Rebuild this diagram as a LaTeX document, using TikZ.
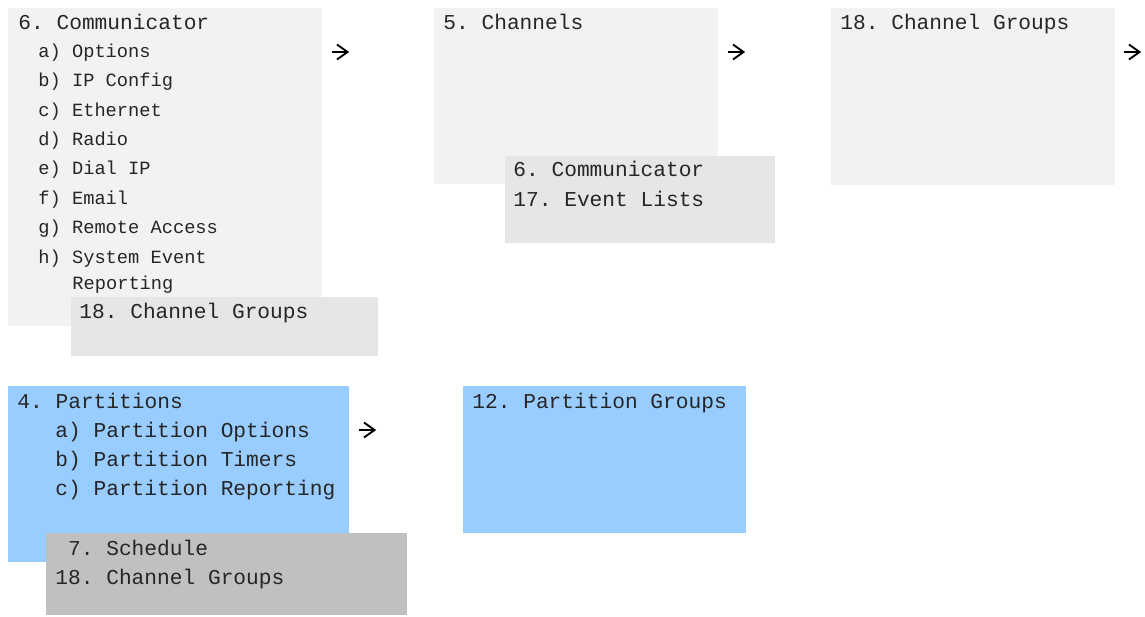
\documentclass[tikz,border=0pt]{standalone}
\usepackage{fontspec}
\setmonofont{Liberation Mono}
\definecolor{lightbox}{HTML}{F2F2F2}
\definecolor{midbox}{HTML}{E6E6E6}
\definecolor{bluebox}{HTML}{99CCFF}
\definecolor{silverbox}{HTML}{C0C0C0}
\begin{document}
\begin{tikzpicture}[x=0.5pt,y=-0.5pt,
  lt/.style={anchor=base west, inner sep=0pt, text=black!85, font=\ttfamily\fontsize{10.6}{13}\selectfont},
  sm/.style={lt, font=\ttfamily\fontsize{9.35}{11}\selectfont},
  arrowglyph/.pic={
    \draw[line width=0.95pt, black] (-8.5,0) -- (7,0);
    \draw[line width=0.95pt, black, line join=miter] (-3,-7.5) -- (7.5,0) -- (-3,7.5);
  }]
\useasboundingbox (0,0) rectangle (1145,616);
% boxes
\fill[lightbox] (8,8) rectangle (322,326);
\fill[lightbox] (434,8) rectangle (718,184);
\fill[lightbox] (831,8) rectangle (1115,185);
\fill[bluebox] (8,386) rectangle (349,562);
\fill[bluebox] (463,386) rectangle (746,533);
% box A text
\node[lt] (a0) at (18,29.5) {6. Communicator};
\node[sm] (a1) at (38,57) {a) Options};
\node[sm] (a2) at (38,86.5) {b) IP Config};
\node[sm] (a3) at (38,116) {c) Ethernet};
\node[sm] (a4) at (38,145) {d) Radio};
\node[sm] (a5) at (38,174.5) {e) Dial IP};
\node[sm] (a6) at (38,204) {f) Email};
\node[sm] (a7) at (38,233.5) {g) Remote Access};
\node[sm] (a8) at (38,263) {h) System Event};
\node[sm] (a9) at (72,289) {Reporting};
\fill[midbox] (71,297) rectangle (378,356);
\node[lt] (a10) at (79,318) {18. Channel Groups};
% box B
\node[lt] (b0) at (443,29.5) {5. Channels};
\fill[midbox] (505,156) rectangle (775,243);
\node[lt] (b1) at (513,176) {6. Communicator};
\node[lt] (b2) at (513,206) {17. Event Lists};
% box C
\node[lt] (c0) at (840,29.5) {18. Channel Groups};
% box D
\node[lt] (d0) at (17,408) {4. Partitions};
\node[lt] (d1) at (55,437) {a) Partition Options};
\node[lt] (d2) at (55,466) {b) Partition Timers};
\node[lt] (d3) at (55,495.5) {c) Partition Reporting};
\fill[silverbox] (46,533) rectangle (407,615);
\node[lt] (d4) at (55,555) {\ 7. Schedule};
\node[lt] (d5) at (55,584.5) {18. Channel Groups};
% box E
\node[lt] (e0) at (472,408) {12. Partition Groups};
% arrows
\coordinate (r1) at (340,52);
\coordinate (r2) at (736,52);
\coordinate (r3) at (1132,52);
\coordinate (r4) at (367,430);
\pic at (r1) {arrowglyph};
\pic at (r2) {arrowglyph};
\pic at (r3) {arrowglyph};
\pic at (r4) {arrowglyph};
\end{tikzpicture}
\end{document}
